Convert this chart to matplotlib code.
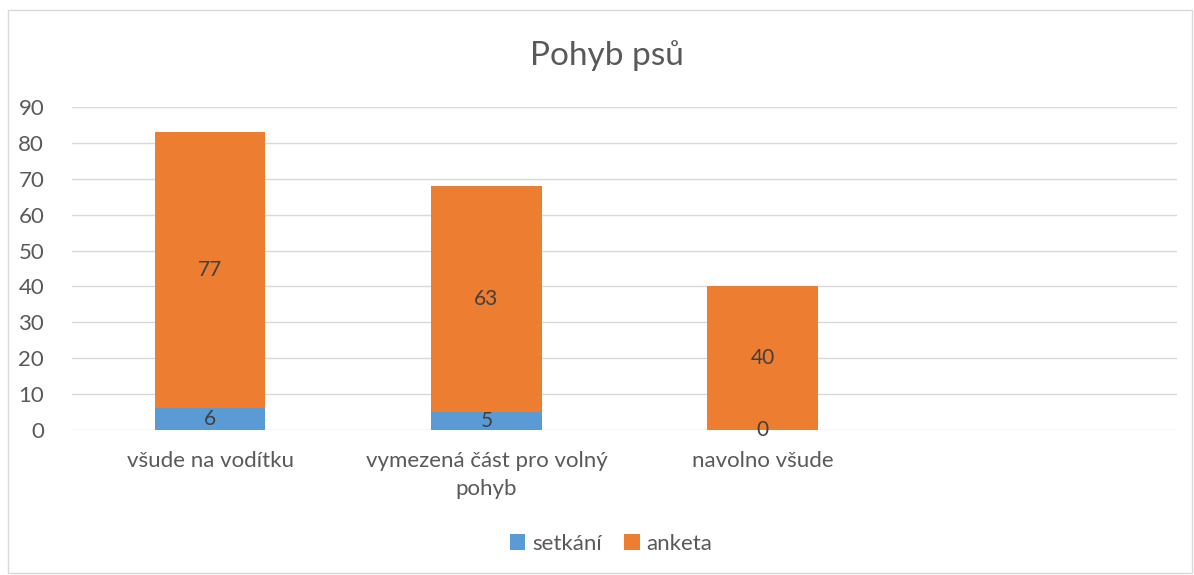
import matplotlib.pyplot as plt
import numpy as np
from matplotlib.patches import Rectangle

plt.rcParams['font.family'] = ['Lato', 'DejaVu Sans']

categories = ['všude na vodítku', 'vymezená část pro volný\npohyb', 'navolno všude', '']
setkani = [6, 5, 0, None]
anketa = [77, 63, 40, None]
series_names = ['setkání', 'anketa']
colors = ['#5B9BD5', '#ED7D31']
yticks = [0, 10, 20, 30, 40, 50, 60, 70, 80, 90]

fig = plt.figure(figsize=(11.94, 5.75), dpi=100)
ax = fig.add_axes([72/1194, 1-430/575, 1105/1194, 323/575])

x = np.arange(len(categories))
s1 = np.array([v if v is not None else np.nan for v in setkani], dtype=float)
s2 = np.array([v if v is not None else np.nan for v in anketa], dtype=float)
n = 3
b1 = ax.bar(x[:n], s1[:n], width=0.4, color=colors[0], label=series_names[0], zorder=3)
b2 = ax.bar(x[:n], s2[:n], width=0.4, bottom=s1[:n], color=colors[1], label=series_names[1], zorder=3)
ax.bar_label(b1, label_type='center', fontsize=15, color='#404040')
ax.bar_label(b2, label_type='center', fontsize=15, color='#404040')

ax.set_xlim(-0.5, len(categories) - 0.5)
ax.set_ylim(0, 90)
ax.set_yticks(yticks)
ax.set_xticks(x)
ax.set_xticklabels(categories, multialignment='center', linespacing=1.5)
ax.tick_params(axis='both', length=0, labelsize=16, labelcolor='#595959')
ax.tick_params(axis='y', pad=20)
ax.tick_params(axis='x', pad=15)
ax.grid(axis='y', color='#D9D9D9', linewidth=1, zorder=0)
for sp in ax.spines.values():
    sp.set_visible(False)

fig.text(607/1194, 1 - 56/575, 'Pohyb psů', ha='center', va='center', fontsize=24, color='#595959')

fig.legend(handles=[b1, b2], labels=series_names, loc='center', bbox_to_anchor=(611/1194, 1 - 544/575),
           ncol=2, frameon=False, fontsize=16, labelcolor='#595959',
           handlelength=0.7, handleheight=0.7, handletextpad=0.3, columnspacing=1.0)

fig.patches.append(Rectangle((8/1194, 2/575), 1184/1194, 563/575, transform=fig.transFigure,
                             fill=False, edgecolor='#D9D9D9', linewidth=1))

fig.savefig('out.png', dpi=100)
